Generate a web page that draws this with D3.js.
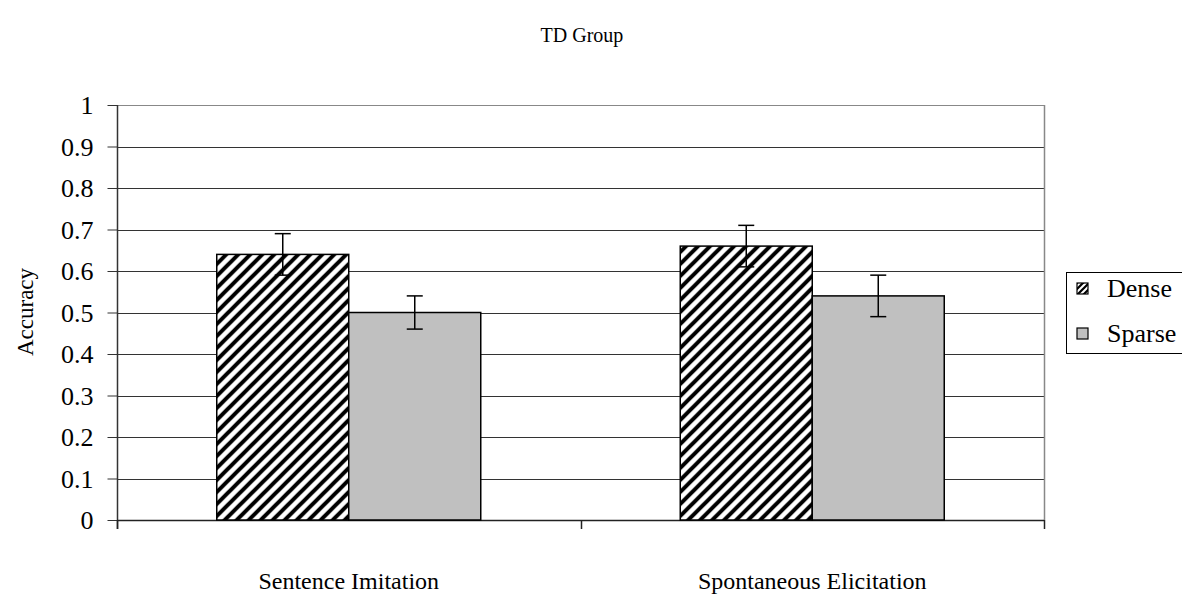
<!DOCTYPE html>
<html><head><meta charset="utf-8">
<script src="https://cdn.jsdelivr.net/npm/d3@7"></script>
<style>body{margin:0;background:#fff;} svg{display:block;} svg text{font-family:"Liberation Serif","Times New Roman",serif !important;fill:#000;}</style>
</head><body>
<svg id="c" width="1182" height="613"></svg>
<script>
const categories = ["Sentence Imitation", "Spontaneous Elicitation"];
const series = ["Dense", "Sparse"];
const denseValues = [0.64, 0.66];
const sparseValues = [0.50, 0.54];
const denseErrors = [0.05, 0.05];
const sparseErrors = [0.04, 0.05];
const yTicks = [0, 0.1, 0.2, 0.3, 0.4, 0.5, 0.6, 0.7, 0.8, 0.9, 1];
const title = "TD Group";
const yLabel = "Accuracy";

const SERIF = '"Liberation Serif","Times New Roman",serif';
const svg = d3.select("#c");
const L = 117, R = 1044, T = 105, B = 520;
const x = d3.scaleBand().domain(categories).range([L, R]).paddingInner(0).paddingOuter(0);
const y = d3.scaleLinear().domain([0, 1]).range([B, T]);
const groupW = 264;
const xs = d3.scaleBand().domain(series).range([0, groupW]);

const defs = svg.append("defs");
const pat = defs.append("pattern").attr("id", "hatch").attr("patternUnits", "userSpaceOnUse")
  .attr("width", 12).attr("height", 12);
pat.append("rect").attr("width", 12).attr("height", 12).attr("fill", "#fff");
pat.append("path").attr("d", "M-3,3 L3,-3 M0,12 L12,0 M9,15 L15,9").attr("stroke", "#000").attr("stroke-width", 4);
const patL = defs.append("pattern").attr("id", "hatchL").attr("patternUnits", "userSpaceOnUse")
  .attr("width", 6).attr("height", 6);
patL.append("rect").attr("width", 6).attr("height", 6).attr("fill", "#fff");
patL.append("path").attr("d", "M-1.5,1.5 L1.5,-1.5 M0,6 L6,0 M4.5,7.5 L7.5,4.5").attr("stroke", "#000").attr("stroke-width", 2.2);

const fills = {Dense: "url(#hatch)", Sparse: "#c0c0c0"};

// gridlines
svg.append("g").selectAll("line").data(yTicks.filter(t => t > 0)).join("line")
  .attr("x1", L).attr("x2", R)
  .attr("y1", d => Math.round(y(d)) + 0.5).attr("y2", d => Math.round(y(d)) + 0.5)
  .attr("stroke", d => d === 1 ? "#888" : "#333").attr("stroke-width", 1);
// right border
svg.append("line").attr("x1", R + 0.5).attr("x2", R + 0.5).attr("y1", T).attr("y2", B)
  .attr("stroke", "#888").attr("stroke-width", 1.5);

// y axis
const yAxis = d3.axisLeft(y).tickValues(yTicks).tickSize(10).tickPadding(14).tickFormat(d => d3.format("")(+d.toFixed(1)));
const gy = svg.append("g").attr("transform", `translate(${L + 0.5},0)`).call(yAxis)
  .attr("font-family", SERIF).attr("font-size", 26);
gy.select(".domain").remove();
gy.selectAll(".tick line").attr("stroke", "#333");
gy.selectAll("text").attr("dy", "0.34em").style("font-family", SERIF).style("font-size", "26px");
svg.append("line").attr("x1", L + 0.5).attr("x2", L + 0.5).attr("y1", T).attr("y2", B + 9).attr("stroke", "#333").attr("stroke-width", 1.5);

// x axis line and ticks
svg.append("line").attr("x1", L).attr("x2", R).attr("y1", B + 0.5).attr("y2", B + 0.5).attr("stroke", "#222").attr("stroke-width", 1.5);
const xTickPos = [L, ...categories.map(c => x(c) + x.bandwidth())];
svg.append("g").selectAll("line").data(xTickPos).join("line")
  .attr("x1", d => Math.round(d) + 0.5).attr("x2", d => Math.round(d) + 0.5)
  .attr("y1", B).attr("y2", B + 9).attr("stroke", "#222").attr("stroke-width", 1.5);

// bars
const rows = categories.map((c, i) => ({c, vals: [
  {s: "Dense", v: denseValues[i], e: denseErrors[i]},
  {s: "Sparse", v: sparseValues[i], e: sparseErrors[i]}]}));
const g = svg.append("g").selectAll("g").data(rows).join("g")
  .attr("transform", d => `translate(${x(d.c) + (x.bandwidth() - groupW) / 2},0)`);
g.selectAll("rect").data(d => d.vals).join("rect")
  .attr("x", d => xs(d.s)).attr("width", xs.bandwidth())
  .attr("y", d => y(d.v)).attr("height", d => B - y(d.v))
  .attr("fill", d => fills[d.s]).attr("stroke", "#000").attr("stroke-width", 1.5);
// error bars
const eb = g.selectAll("g.eb").data(d => d.vals).join("g").attr("class", "eb");
eb.append("line").attr("x1", d => xs(d.s) + xs.bandwidth() / 2).attr("x2", d => xs(d.s) + xs.bandwidth() / 2)
  .attr("y1", d => y(d.v + d.e)).attr("y2", d => y(d.v - d.e)).attr("stroke", "#000").attr("stroke-width", 1.5);
eb.selectAll("line.cap").data(d => [{d, t: d.v + d.e}, {d, t: d.v - d.e}]).join("line").attr("class", "cap")
  .attr("x1", k => xs(k.d.s) + xs.bandwidth() / 2 - 8).attr("x2", k => xs(k.d.s) + xs.bandwidth() / 2 + 8)
  .attr("y1", k => y(k.t)).attr("y2", k => y(k.t)).attr("stroke", "#000").attr("stroke-width", 1.5);

// category labels
svg.append("g").selectAll("text").data(categories).join("text")
  .attr("x", d => x(d) + x.bandwidth() / 2).attr("y", 589)
  .attr("text-anchor", "middle").style("font-family", SERIF).style("font-size", "24px").text(d => d);

// title
svg.append("text").attr("x", 582).attr("y", 42).attr("text-anchor", "middle")
  .style("font-family", SERIF).style("font-size", "20px").text(title);
// y label
svg.append("text").attr("transform", "translate(33,312) rotate(-90)").attr("text-anchor", "middle")
  .style("font-family", SERIF).style("font-size", "23px").text(yLabel);

// legend
const lg = svg.append("g");
lg.append("rect").attr("x", 1066.5).attr("y", 272.5).attr("width", 140).attr("height", 81).attr("fill", "#fff").attr("stroke", "#000").attr("stroke-width", 1);
const li = lg.selectAll("g").data(series).join("g").attr("transform", (d, i) => `translate(1077,${283 + i * 45})`);
li.append("rect").attr("width", 11).attr("height", 11).attr("fill", d => d === "Dense" ? "url(#hatchL)" : "#c0c0c0").attr("stroke", "#000").attr("stroke-width", 1.2);
li.append("text").attr("x", 30).attr("y", 14).style("font-family", SERIF).style("font-size", "26px").text(d => d);
</script>
</body></html>
